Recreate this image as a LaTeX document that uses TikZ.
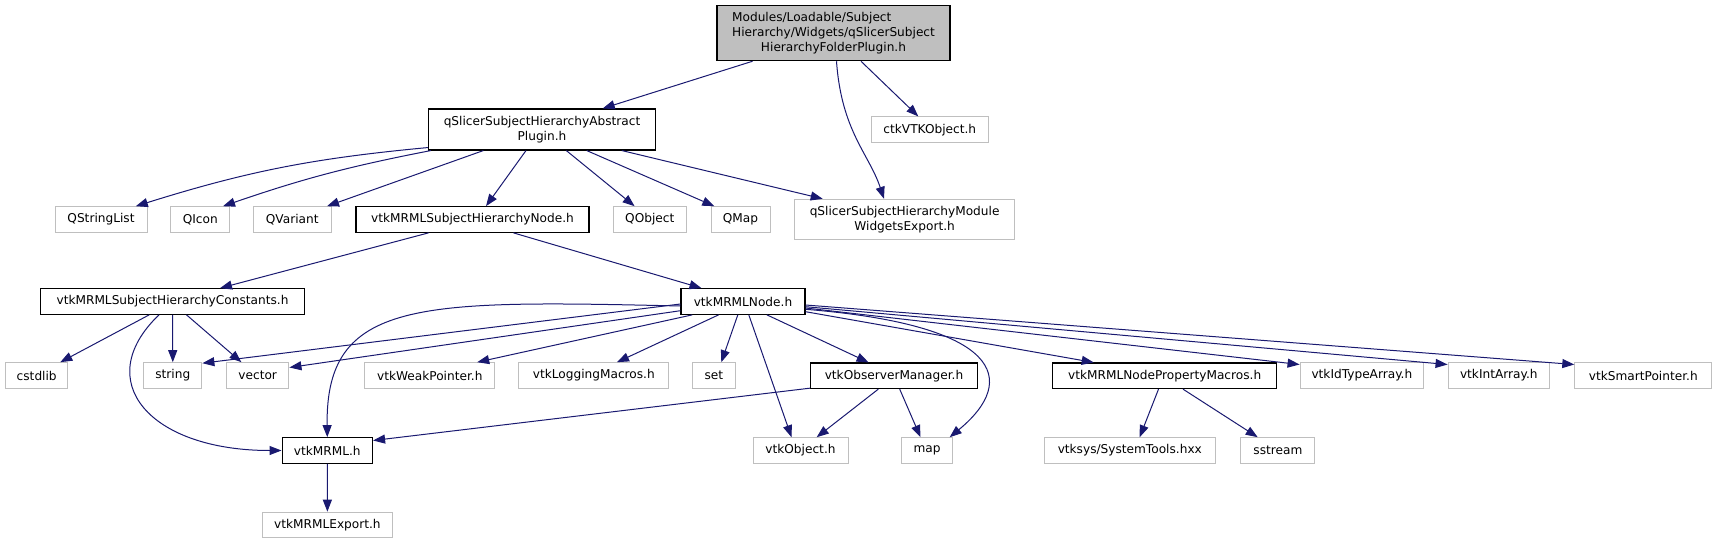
\documentclass[tikz,border=0pt]{standalone}
\usepackage{fontspec}
\setmainfont{DejaVu Sans}
\usepackage{tikz}
\usetikzlibrary{arrows.meta, calc}
\definecolor{edgeblue}{RGB}{25,25,112}
\definecolor{extgray}{RGB}{191,191,191}
\definecolor{rootfill}{RGB}{191,191,191}
\tikzset{
  block/.style={rectangle, draw=black, fill=white, inner sep=0pt,
    minimum height=25.6pt, align=center, line width=1.1pt,
    font=\fontsize{12.15}{15}\selectfont},
  extblock/.style={block, draw=extgray, line width=1pt},
  rootblock/.style={block, fill=rootfill, minimum height=55pt},
  arrow/.style={-{Triangle[length=12pt,width=9pt]}, line width=1pt, color=edgeblue}
}

\begin{document}
\begin{tikzpicture}[x=1pt, y=-1pt]
    \useasboundingbox (0,0) rectangle (1717,544);

    % plugin header and its direct includes
    \node[rootblock, minimum width=233pt] (folder) at (833.5,33.2)
      {\begin{tabular}{@{}l@{}}Modules/Loadable/Subject\\Hierarchy/Widgets/qSlicerSubject\\
       \multicolumn{1}{@{}c@{}}{HierarchyFolderPlugin.h}\end{tabular}};
    \node[block, minimum width=227pt, minimum height=41pt] (abstract) at (542,129.5)
      {qSlicerSubjectHierarchyAbstract\\Plugin.h};
    \node[extblock, minimum width=117.6pt] (ctkvtk) at (929.8,129.7) {ctkVTKObject.h};

    \node[extblock, minimum width=92pt] (qstringlist) at (101,219.5) {QStringList};
    \node[extblock, minimum width=59.3pt] (qicon) at (200.3,219.5) {QIcon};
    \node[extblock, minimum width=77.7pt] (qvariant) at (292.2,219.5) {QVariant};
    \node[block, minimum width=233pt] (shnode) at (472.5,219.5) {vtkMRMLSubjectHierarchyNode.h};
    \node[extblock, minimum width=72.5pt] (qobject) at (649.8,219.5) {QObject};
    \node[extblock, minimum width=59pt] (qmap) at (740.5,219.5) {QMap};
    \node[extblock, minimum width=220pt, minimum height=40pt] (widgetsexport) at (904.6,219.3)
      {qSlicerSubjectHierarchyModule\\WidgetsExport.h};

    \node[block, minimum width=264pt] (constants) at (172.5,301.5) {vtkMRMLSubjectHierarchyConstants.h};
    \node[block, minimum width=124pt] (mrmlnode) at (743,301.5) {vtkMRMLNode.h};

    % headers pulled in by the MRML side
    \node[extblock, minimum width=62.5pt] (cstdlib) at (36.7,375.5) {cstdlib};
    \node[extblock, minimum width=58.2pt] (string) at (172.8,375.5) {string};
    \node[extblock, minimum width=62.5pt] (vector) at (257.7,375.5) {vector};
    \node[extblock, minimum width=130pt] (weakptr) at (429.8,375.5) {vtkWeakPointer.h};
    \node[extblock, minimum width=149.7pt] (logging) at (593.8,375.5) {vtkLoggingMacros.h};
    \node[extblock, minimum width=42.2pt] (set) at (713.9,375.5) {set};
    \node[block, minimum width=166.7pt] (obsmgr) at (894,375.8) {vtkObserverManager.h};
    \node[block, minimum width=224pt] (propmacros) at (1164.7,375.8) {vtkMRMLNodePropertyMacros.h};
    \node[extblock, minimum width=123.7pt] (idtype) at (1361.9,375.5) {vtkIdTypeArray.h};
    \node[extblock, minimum width=101.5pt] (intarray) at (1498.8,375.5) {vtkIntArray.h};
    \node[extblock, minimum width=137pt] (smartptr) at (1643.3,375.5) {vtkSmartPointer.h};

    \node[block, minimum width=90.5pt] (mrml) at (327.3,450.5) {vtkMRML.h};
    \node[extblock, minimum width=95pt] (vtkobject) at (800.5,450.5) {vtkObject.h};
    \node[extblock, minimum width=50.6pt] (map) at (927,450.5) {map};
    \node[extblock, minimum width=171.6pt] (systools) at (1129.8,450.5) {vtksys/SystemTools.hxx};
    \node[extblock, minimum width=74pt] (sstream) at (1277.9,450.5) {sstream};

    \node[extblock, minimum width=130.8pt] (mrmlexport) at (327.4,525) {vtkMRMLExport.h};

    % Draw includes
    \draw[arrow] ([xshift=-81pt]folder.south) -- ([xshift=60.7pt]abstract.north);
    \draw[arrow] ([xshift=3pt]folder.south) .. controls +(5,70) and +(-15,-45) .. ([xshift=-20.6pt]widgetsexport.north);
    \draw[arrow] ([xshift=27.5pt]folder.south) -- ([xshift=-11.5pt]ctkvtk.north);

    \draw[arrow] ([yshift=3pt]abstract.south west) to[bend right=6] ([xshift=34.8pt]qstringlist.north);
    \draw[arrow] ([xshift=3pt]abstract.south west) to[bend right=4] ([xshift=22.7pt]qicon.north);
    \draw[arrow] ([xshift=-58.6pt]abstract.south) -- ([xshift=34.8pt]qvariant.north);
    \draw[arrow] ([xshift=-16pt]abstract.south) -- ([xshift=13.5pt]shnode.north);
    \draw[arrow] ([xshift=24.3pt]abstract.south) -- ([xshift=-15.2pt]qobject.north);
    \draw[arrow] ([xshift=44.7pt]abstract.south) -- ([xshift=-26.2pt]qmap.north);
    \draw[arrow] ([xshift=79.8pt]abstract.south) -- ([xshift=-81.9pt]widgetsexport.north);

    \draw[arrow] ([xshift=-43.9pt]shnode.south) -- ([xshift=47.5pt]constants.north);
    \draw[arrow] ([xshift=40.9pt]shnode.south) -- ([xshift=-41.5pt]mrmlnode.north);

    \draw[arrow] ([xshift=-23.3pt]constants.south) -- ([xshift=23.6pt]cstdlib.north);
    \draw[arrow] (constants.south) -- (string.north);
    \draw[arrow] ([xshift=14pt]constants.south) -- ([xshift=-16.3pt]vector.north);
    \draw[arrow] ([xshift=-13.5pt]constants.south) .. controls +(-69,66) and +(-132,0) .. (mrml.west);

    % vtkMRMLNode.h fans out
    \draw[arrow] ([yshift=-2.5pt]mrmlnode.west) -- ([yshift=-1pt]string.north east);
    \draw[arrow] ([yshift=-9.2pt]mrmlnode.west) -- ([yshift=8pt]vector.east);
    \draw[arrow] ([yshift=-4.5pt]mrmlnode.west) .. controls +(-262,-6) and +(-2,-138) .. (mrml.north);
    \draw[arrow] ([xshift=-50.7pt]mrmlnode.south) -- ([xshift=47.4pt]weakptr.north);
    \draw[arrow] ([xshift=-24.4pt]mrmlnode.south) -- ([xshift=23.2pt]logging.north);
    \draw[arrow] ([xshift=-5.2pt]mrmlnode.south) -- ([xshift=7.4pt]set.north);
    \draw[arrow] ([xshift=5.8pt]mrmlnode.south) -- ([xshift=-9pt]vtkobject.north);
    \draw[arrow] ([xshift=23.9pt]mrmlnode.south) -- ([xshift=-25.4pt]obsmgr.north);
    \draw[arrow] ([yshift=-7.8pt]mrmlnode.east) .. controls +(195,15.7) and +(70,-57.7) .. ([xshift=22.7pt]map.north);
    \draw[arrow] ([yshift=-10.2pt]mrmlnode.east) -- ([xshift=-71pt]propmacros.north);
    \draw[arrow] ([yshift=-6.5pt]mrmlnode.east) -- ([yshift=-2.3pt]idtype.north west);
    \draw[arrow] ([yshift=-5.2pt]mrmlnode.east) -- ([yshift=-2.3pt]intarray.north west);
    \draw[arrow] ([yshift=-3.5pt]mrmlnode.east) -- ([yshift=-2.3pt]smartptr.north west);

    \draw[arrow] ([yshift=1pt]obsmgr.south west) -- ([yshift=10pt]mrml.east);
    \draw[arrow] ([xshift=-15.7pt]obsmgr.south) -- ([xshift=16.2pt]vtkobject.north);
    \draw[arrow] ([xshift=5.7pt]obsmgr.south) -- ([xshift=-6.5pt]map.north);

    \draw[arrow] (mrml) -- (mrmlexport);
    \draw[arrow] ([xshift=-6.2pt]propmacros.south) -- ([xshift=9.9pt]systools.north);
    \draw[arrow] ([xshift=18.3pt]propmacros.south) -- ([xshift=-20.2pt]sstream.north);
  \end{tikzpicture}
\end{document}
